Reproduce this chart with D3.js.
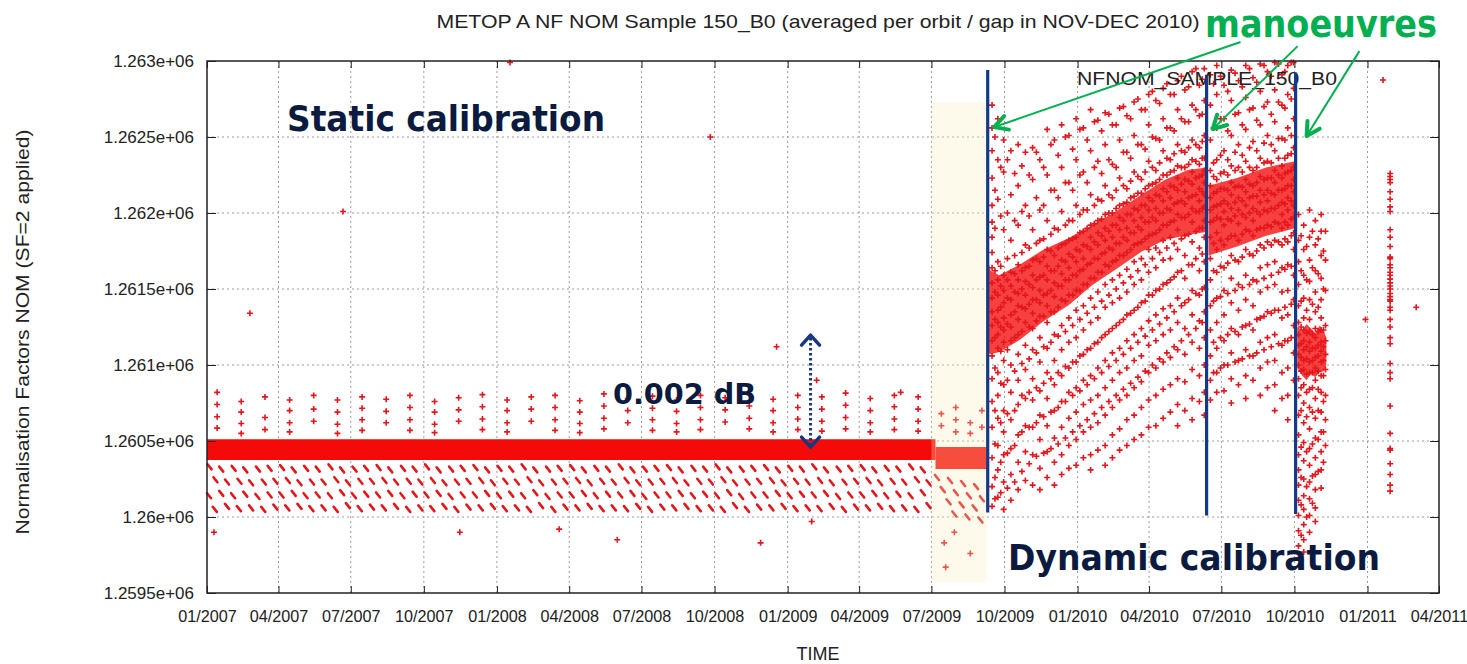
<!DOCTYPE html>
<html><head><meta charset="utf-8">
<script src="https://cdn.jsdelivr.net/npm/d3@7"></script>
<style>body{margin:0;background:#fff}svg{display:block}</style>
</head><body>
<svg id="c" width="1467" height="664"></svg>
<script>
// ---------- tick data ----------
const xTickDates = ["2007-01-01","2007-04-01","2007-07-01","2007-10-01","2008-01-01","2008-04-01","2008-07-01","2008-10-01","2009-01-01","2009-04-01","2009-07-01","2009-10-01","2010-01-01","2010-04-01","2010-07-01","2010-10-01","2011-01-01","2011-04-01"];
const xTickLabels = ["01/2007","04/2007","07/2007","10/2007","01/2008","04/2008","07/2008","10/2008","01/2009","04/2009","07/2009","10/2009","01/2010","04/2010","07/2010","10/2010","01/2011","04/2011"];
const yTicks = [1259500,1260000,1260500,1261000,1261500,1262000,1262500,1263000];
const yTickLabels = ["1.2595e+06","1.26e+06","1.2605e+06","1.261e+06","1.2615e+06","1.262e+06","1.2625e+06","1.263e+06"];

// ---------- dense bands [yearFrac, low, high] ----------
const staticBand = [[2007.0,1260375,1260512],[2009.51,1260375,1260512]];
const shadedBand = [[2009.51,1260315,1260460],[2009.686,1260315,1260460]];
const dynBand1 = [[2009.690,1261080,1261700],[2009.700,1261070,1261620],[2009.730,1261085,1261590],[2009.800,1261165,1261660],[2009.880,1261285,1261756],[2009.970,1261395,1261835],[2010.050,1261525,1261920],[2010.140,1261640,1262020],[2010.220,1261745,1262120],[2010.300,1261822,1262217],[2010.380,1261855,1262283],[2010.443,1261875,1262300]];
const dynBand2 = [[2010.452,1261720,1262180],[2010.550,1261780,1262230],[2010.650,1261850,1262300],[2010.750,1261900,1262340]];
const dynBand3 = [[2010.758,1260980,1261250],[2010.775,1260930,1261230],[2010.790,1260900,1261270],[2010.805,1260940,1261240],[2010.820,1260920,1261210],[2010.835,1260950,1261260],[2010.850,1260960,1261220],[2010.858,1261000,1261180]];

// ---------- static period: upper points per orbit-cycle column ----------
const staticUpper = [
[2007.035,[1260820,1260740,1260660,1260585]],[2007.118,[1260760,1260690,1260615,1260550]],[2007.200,[1260790,1260655,1260575]],
[2007.285,[1260770,1260700,1260620,1260560]],[2007.368,[1260800,1260710,1260630]],[2007.450,[1260770,1260690,1260610,1260550]],
[2007.535,[1260790,1260715,1260640,1260570]],[2007.618,[1260775,1260695,1260620]],[2007.700,[1260800,1260720,1260640,1260570]],
[2007.785,[1260760,1260690,1260610,1260555]],[2007.868,[1260785,1260705,1260630]],[2007.950,[1260805,1260725,1260645,1260575]],
[2008.035,[1260770,1260700,1260620,1260560]],[2008.118,[1260790,1260710,1260630]],[2008.200,[1260800,1260720,1260640,1260570]],
[2008.285,[1260765,1260690,1260615,1260555]],[2008.368,[1260810,1260730,1260650,1260580]],[2008.450,[1260780,1260700,1260620]],
[2008.535,[1260795,1260715,1260640,1260570]],[2008.618,[1260770,1260695,1260615,1260560]],[2008.700,[1260800,1260720,1260640,1260575]],
[2008.785,[1260785,1260705,1260625]],[2008.868,[1260810,1260730,1260650,1260580]],[2008.950,[1260775,1260700,1260620,1260560]],
[2009.035,[1260800,1260720,1260645,1260575]],[2009.118,[1260790,1260710,1260630,1260565]],[2009.200,[1260815,1260735,1260655,1260580]],
[2009.285,[1260780,1260700,1260620,1260560]],[2009.368,[1260800,1260725,1260645,1260575]],[2009.450,[1260790,1260710,1260630,1260565]],
[2009.530,[1260680,1260600]],[2009.580,[1260720,1260640,1260560]],[2009.630,[1260620,1260550]],[2009.670,[1260700,1260590]]
];

// ---------- static period: lower streaks [yearFrac, value at streak top] ----------
const staticLower = [
[2007.009,1260340],[2007.029,1260255],[2007.049,1260165],[2007.069,1260080],[2007.049,1260325],[2007.069,1260240],[2007.007,1260150],[2007.027,1260060],
[2007.092,1260330],[2007.112,1260245],[2007.132,1260160],[2007.152,1260070],[2007.132,1260320],[2007.152,1260235],[2007.090,1260150],[2007.110,1260065],
[2007.176,1260325],[2007.196,1260240],[2007.216,1260155],[2007.236,1260075],[2007.216,1260330],[2007.236,1260245],[2007.174,1260145],[2007.194,1260060],
[2007.259,1260335],[2007.279,1260250],[2007.299,1260165],[2007.319,1260080],[2007.299,1260320],[2007.319,1260235],[2007.257,1260155],[2007.277,1260070],
[2007.342,1260330],[2007.362,1260240],[2007.382,1260155],[2007.402,1260070],[2007.382,1260325],[2007.402,1260240],[2007.340,1260150],[2007.360,1260065],
[2007.426,1260340],[2007.446,1260255],[2007.466,1260170],[2007.486,1260085],[2007.466,1260320],[2007.486,1260235],[2007.424,1260150],[2007.444,1260060],
[2007.509,1260325],[2007.529,1260245],[2007.549,1260160],[2007.569,1260075],[2007.549,1260330],[2007.569,1260245],[2007.507,1260150],[2007.527,1260065],
[2007.592,1260335],[2007.612,1260250],[2007.632,1260165],[2007.652,1260080],[2007.632,1260320],[2007.652,1260240],[2007.590,1260155],[2007.610,1260070],
[2007.676,1260330],[2007.696,1260245],[2007.716,1260160],[2007.736,1260070],[2007.716,1260325],[2007.736,1260240],[2007.674,1260150],[2007.694,1260060],
[2007.759,1260340],[2007.779,1260250],[2007.799,1260165],[2007.819,1260080],[2007.799,1260320],[2007.819,1260235],[2007.757,1260155],[2007.777,1260065],
[2007.842,1260325],[2007.862,1260240],[2007.882,1260155],[2007.902,1260075],[2007.882,1260330],[2007.902,1260245],[2007.840,1260145],[2007.860,1260060],
[2007.926,1260335],[2007.946,1260250],[2007.966,1260165],[2007.986,1260080],[2007.966,1260320],[2007.986,1260235],[2007.924,1260155],[2007.944,1260070],
[2008.009,1260330],[2008.029,1260245],[2008.049,1260160],[2008.069,1260070],[2008.049,1260325],[2008.069,1260240],[2008.007,1260150],[2008.027,1260065],
[2008.092,1260340],[2008.112,1260255],[2008.132,1260170],[2008.152,1260085],[2008.132,1260320],[2008.152,1260235],[2008.090,1260150],[2008.110,1260060],
[2008.176,1260325],[2008.196,1260240],[2008.216,1260155],[2008.236,1260075],[2008.216,1260330],[2008.236,1260245],[2008.174,1260145],[2008.194,1260060],
[2008.259,1260335],[2008.279,1260250],[2008.299,1260165],[2008.319,1260080],[2008.299,1260320],[2008.319,1260235],[2008.257,1260155],[2008.277,1260070],
[2008.342,1260330],[2008.362,1260245],[2008.382,1260160],[2008.402,1260070],[2008.382,1260325],[2008.402,1260240],[2008.340,1260150],[2008.360,1260065],
[2008.426,1260340],[2008.446,1260250],[2008.466,1260165],[2008.486,1260080],[2008.466,1260320],[2008.486,1260235],[2008.424,1260155],[2008.444,1260065],
[2008.509,1260325],[2008.529,1260240],[2008.549,1260155],[2008.569,1260075],[2008.549,1260330],[2008.569,1260245],[2008.507,1260145],[2008.527,1260060],
[2008.592,1260335],[2008.612,1260250],[2008.632,1260165],[2008.652,1260080],[2008.632,1260320],[2008.652,1260235],[2008.590,1260155],[2008.610,1260070],
[2008.676,1260330],[2008.696,1260245],[2008.716,1260160],[2008.736,1260070],[2008.716,1260325],[2008.736,1260240],[2008.674,1260150],[2008.694,1260065],
[2008.759,1260340],[2008.779,1260255],[2008.799,1260170],[2008.819,1260085],[2008.799,1260320],[2008.819,1260235],[2008.757,1260150],[2008.777,1260060],
[2008.842,1260325],[2008.862,1260240],[2008.882,1260155],[2008.902,1260075],[2008.882,1260330],[2008.902,1260245],[2008.840,1260145],[2008.860,1260060],
[2008.926,1260335],[2008.946,1260250],[2008.966,1260165],[2008.986,1260080],[2008.966,1260320],[2008.986,1260235],[2008.924,1260155],[2008.944,1260070],
[2009.009,1260330],[2009.029,1260245],[2009.049,1260160],[2009.069,1260070],[2009.049,1260325],[2009.069,1260240],[2009.007,1260150],[2009.027,1260065],
[2009.092,1260340],[2009.112,1260250],[2009.132,1260165],[2009.152,1260080],[2009.132,1260320],[2009.152,1260235],[2009.090,1260155],[2009.110,1260065],
[2009.176,1260325],[2009.196,1260240],[2009.216,1260155],[2009.236,1260075],[2009.216,1260330],[2009.236,1260245],[2009.174,1260145],[2009.194,1260060],
[2009.259,1260335],[2009.279,1260250],[2009.299,1260165],[2009.319,1260080],[2009.299,1260320],[2009.319,1260235],[2009.257,1260155],[2009.277,1260070],
[2009.342,1260330],[2009.362,1260245],[2009.382,1260160],[2009.402,1260070],[2009.382,1260325],[2009.402,1260240],[2009.340,1260150],[2009.360,1260065],
[2009.426,1260340],[2009.446,1260255],[2009.466,1260170],[2009.486,1260085],[2009.466,1260320],[2009.486,1260235],[2009.424,1260150],[2009.444,1260060],
[2009.515,1260270],[2009.535,1260190],[2009.555,1260110],[2009.575,1260030],[2009.560,1260250],[2009.580,1260170],[2009.600,1260090],[2009.620,1260010],
[2009.605,1260230],[2009.625,1260150],[2009.645,1260070],[2009.665,1259990],[2009.650,1260210],[2009.670,1260130]
];

// ---------- isolated outliers [yearFrac, value] ----------
const outliers = [[2007.148,1261340],[2007.469,1262010],[2008.045,1262990],[2008.734,1262500],[2008.962,1261120],[2009.100,1260900],[2009.390,1260820],
[2008.414,1259850],[2008.907,1259830],[2009.083,1259970],[2007.024,1259900],[2007.872,1259900],[2008.214,1259920],
[2009.540,1259830],[2009.545,1259670],[2009.630,1259760],[2009.575,1259900],[2010.993,1261300],[2011.168,1261380]];

// ---------- dynamic calibration period: columns [yearFrac, values] ----------
const dynCols1 = [
[2009.705,[1262710,1262560,1262410,1262230,1262050,1261940,1261840,1261740,1261640,1261540,1261440,1261350,1261260,1261160,1261060,1260910,1260760,1260590,1260390,1260200,1260070]],
[2009.715,[1262500,1262150,1261900,1261620,1261480,1261300,1261180,1260980,1260700,1260480,1260260,1260120]],
[2009.725,[1262620,1262350,1262090,1261680,1261560,1261460,1261360,1261280,1261200,1261110,1260950,1260800,1260650,1260470,1260310,1260130]],
[2009.735,[1262300,1261980,1261650,1261520,1261380,1261250,1261090,1260880,1260620,1260360,1260160]],
[2009.745,[1262480,1262270,1261890,1261590,1261490,1261410,1261310,1261230,1261150,1261030,1260870,1260700,1260560,1260410,1260230,1260050]],
[2009.758,[1262350,1262000,1261700,1261560,1261440,1261270,1261100,1260900,1260680,1260420,1260190]],
[2009.770,[1262410,1262120,1261820,1261610,1261520,1261430,1261330,1261250,1261160,1261000,1260820,1260640,1260450,1260280,1260110]],
[2009.783,[1262260,1261950,1261720,1261600,1261480,1261350,1261180,1260960,1260700,1260470,1260230]],
[2009.795,[1262450,1262180,1261920,1261660,1261560,1261470,1261390,1261300,1261200,1261070,1260900,1260740,1260540,1260360,1260180]],
[2009.808,[1262310,1262010,1261740,1261620,1261500,1261380,1261220,1261010,1260800,1260560,1260300]],
[2009.820,[1262400,1262050,1261790,1261640,1261550,1261460,1261370,1261280,1261130,1260970,1260780,1260600,1260430,1260240]],
[2009.833,[1262250,1261980,1261770,1261650,1261530,1261400,1261250,1261040,1260820,1260590,1260350]],
[2009.845,[1262430,1262220,1261890,1261690,1261590,1261510,1261430,1261340,1261240,1261100,1260910,1260770,1260590,1260410,1260210]],
[2009.858,[1262400,1262100,1261800,1261700,1261560,1261430,1261290,1261080,1260850,1260620,1260400]],
[2009.870,[1262350,1262020,1261820,1261680,1261580,1261490,1261410,1261320,1261180,1261020,1260830,1260670,1260510,1260320,1260180]],
[2009.883,[1262300,1262050,1261830,1261710,1261590,1261460,1261320,1261120,1260880,1260660,1260420]],
[2009.895,[1262550,1262250,1261950,1261760,1261650,1261560,1261470,1261390,1261280,1261110,1260950,1260780,1260600,1260430,1260260]],
[2009.908,[1262450,1262150,1261860,1261750,1261620,1261490,1261350,1261150,1260910,1260690,1260450]],
[2009.920,[1262480,1262150,1261900,1261720,1261620,1261540,1261450,1261350,1261200,1261030,1260870,1260700,1260520,1260360,1260210]],
[2009.933,[1262380,1262100,1261890,1261770,1261650,1261520,1261380,1261190,1260950,1260720,1260480]],
[2009.945,[1262580,1262300,1262010,1261790,1261690,1261600,1261520,1261430,1261260,1261100,1260930,1260760,1260590,1260410,1260280]],
[2009.958,[1262500,1262200,1261920,1261800,1261680,1261560,1261420,1261220,1260990,1260760,1260520]],
[2009.970,[1262510,1262200,1261950,1261820,1261730,1261640,1261560,1261460,1261310,1261150,1260980,1260820,1260650,1260470,1260320]],
[2009.983,[1262420,1262150,1261950,1261830,1261710,1261590,1261460,1261260,1261020,1260800,1260560]],
[2009.995,[1262620,1262350,1262050,1261840,1261760,1261680,1261590,1261490,1261360,1261180,1261020,1260850,1260690,1260510,1260340]],
[2010.008,[1262550,1262250,1261990,1261870,1261750,1261620,1261490,1261300,1261060,1260830,1260600]],
[2010.020,[1262560,1262270,1262020,1261880,1261790,1261700,1261630,1261530,1261390,1261230,1261070,1260900,1260740,1260560,1260390]],
[2010.033,[1262480,1262200,1262020,1261900,1261780,1261660,1261530,1261340,1261100,1260870,1260640]],
[2010.045,[1262680,1262410,1262120,1261920,1261840,1261760,1261670,1261570,1261440,1261280,1261110,1260930,1260770,1260590,1260410,1260310]],
[2010.058,[1262600,1262300,1262050,1261930,1261810,1261700,1261570,1261380,1261140,1260910,1260680]],
[2010.070,[1262610,1262340,1262090,1261950,1261870,1261790,1261700,1261610,1261480,1261310,1261150,1260980,1260800,1260620,1260440]],
[2010.083,[1262540,1262260,1262080,1261960,1261850,1261730,1261610,1261420,1261180,1260950,1260720]],
[2010.095,[1262660,1262450,1262180,1261990,1261900,1261820,1261740,1261660,1261530,1261380,1261200,1261030,1260850,1260670,1260470,1260340]],
[2010.108,[1262650,1262350,1262120,1262000,1261880,1261770,1261650,1261460,1261220,1260990,1260760]],
[2010.120,[1262580,1262320,1262100,1262000,1261920,1261840,1261760,1261680,1261560,1261410,1261240,1261080,1260900,1260720,1260540,1260390]],
[2010.133,[1262580,1262300,1262150,1262030,1261920,1261800,1261690,1261500,1261260,1261030,1260800]],
[2010.145,[1262690,1262480,1262230,1262050,1261970,1261890,1261800,1261720,1261590,1261440,1261280,1261110,1260950,1260770,1260580,1260440]],
[2010.158,[1262700,1262400,1262180,1262060,1261950,1261840,1261720,1261540,1261300,1261070,1260840]],
[2010.170,[1262640,1262400,1262160,1262070,1261990,1261900,1261820,1261740,1261630,1261480,1261330,1261160,1260980,1260800,1260640,1260470]],
[2010.183,[1262620,1262360,1262210,1262100,1261990,1261870,1261760,1261580,1261340,1261110,1260880]],
[2010.195,[1262730,1262510,1262270,1262110,1262030,1261950,1261870,1261790,1261680,1261530,1261360,1261200,1261030,1260850,1260670,1260510]],
[2010.208,[1262750,1262450,1262240,1262130,1262020,1261910,1261800,1261620,1261380,1261150,1260920]],
[2010.220,[1262680,1262450,1262220,1262130,1262050,1261970,1261890,1261810,1261700,1261560,1261410,1261240,1261060,1260890,1260720,1260540]],
[2010.233,[1262680,1262420,1262270,1262160,1262050,1261940,1261830,1261660,1261420,1261190,1260960]],
[2010.245,[1262780,1262580,1262340,1262180,1262100,1262020,1261940,1261850,1261760,1261610,1261460,1261290,1261130,1260950,1260770,1260590]],
[2010.258,[1262800,1262500,1262300,1262190,1262080,1261970,1261860,1261700,1261460,1261230,1261000]],
[2010.270,[1262740,1262490,1262280,1262200,1262120,1262030,1261950,1261870,1261770,1261640,1261490,1261330,1261160,1260980,1260800,1260600]],
[2010.283,[1262720,1262480,1262330,1262220,1262110,1262000,1261890,1261740,1261500,1261270,1261040]],
[2010.295,[1262820,1262620,1262410,1262250,1262160,1262080,1262000,1261920,1261820,1261690,1261530,1261370,1261200,1261020,1260840,1260650]],
[2010.308,[1262850,1262560,1262360,1262250,1262140,1262030,1261920,1261770,1261540,1261310,1261080]],
[2010.320,[1262780,1262560,1262350,1262270,1262180,1262100,1262020,1261940,1261840,1261700,1261560,1261390,1261230,1261050,1260870,1260690]],
[2010.333,[1262780,1262540,1262390,1262280,1262170,1262060,1261950,1261800,1261580,1261350,1261120]],
[2010.345,[1262870,1262680,1262450,1262310,1262230,1262150,1262070,1261990,1261890,1261760,1261610,1261440,1261280,1261100,1260910,1260740,1260600]],
[2010.358,[1262900,1262620,1262410,1262300,1262190,1262080,1261970,1261830,1261620,1261390,1261160]],
[2010.370,[1262810,1262600,1262400,1262300,1262220,1262140,1262060,1261970,1261850,1261720,1261570,1261410,1261240,1261070,1260890,1260700]],
[2010.383,[1262830,1262600,1262430,1262320,1262210,1262100,1261990,1261860,1261660,1261430,1261200]],
[2010.395,[1262930,1262710,1262480,1262350,1262270,1262190,1262110,1262030,1261940,1261810,1261660,1261490,1261330,1261150,1260970,1260780,1260640]],
[2010.408,[1262950,1262680,1262450,1262340,1262230,1262120,1262010,1261880,1261700,1261470,1261240]],
[2010.420,[1262840,1262640,1262430,1262320,1262240,1262160,1262080,1262010,1261900,1261770,1261620,1261460,1261290,1261110,1260930,1260760]],
[2010.430,[1262880,1262650,1262470,1262360,1262250,1262140,1262030,1261900,1261730,1261500,1261280]],
[2010.437,[1262950,1262740,1262510,1262360,1262280,1262200,1262120,1262040,1261950,1261840,1261680,1261510,1261350,1261180,1261000,1260820,1260670]]
];
const dynCols2 = [
[2010.458,[1262910,1262710,1262480,1262280,1262180,1262100,1262020,1261940,1261840,1261700,1261560,1261390,1261230,1261060,1260900,1260770]],
[2010.469,[1262850,1262560,1262330,1262240,1262130,1262040,1261950,1261800,1261620,1261420,1261150,1260950]],
[2010.480,[1262970,1262780,1262560,1262350,1262220,1262140,1262050,1261970,1261870,1261760,1261610,1261440,1261280,1261110,1260950,1260820]],
[2010.493,[1262900,1262620,1262380,1262260,1262160,1262060,1261960,1261820,1261650,1261450,1261180,1260980]],
[2010.505,[1262840,1262620,1262410,1262270,1262160,1262080,1262010,1261920,1261790,1261640,1261490,1261330,1261160,1261000,1260830]],
[2010.518,[1262800,1262540,1262350,1262250,1262150,1262060,1261960,1261830,1261670,1261470,1261200,1261000]],
[2010.530,[1262940,1262740,1262510,1262310,1262200,1262120,1262030,1261950,1261850,1261720,1261570,1261410,1261240,1261080,1260910,1260750]],
[2010.543,[1262920,1262650,1262400,1262280,1262170,1262070,1261980,1261850,1261690,1261490,1261220,1261020]],
[2010.555,[1262870,1262660,1262450,1262300,1262180,1262100,1262020,1261930,1261820,1261680,1261530,1261360,1261200,1261030,1260870]],
[2010.568,[1262830,1262580,1262380,1262270,1262170,1262080,1261990,1261860,1261710,1261510,1261250,1261040]],
[2010.580,[1262970,1262760,1262550,1262340,1262220,1262140,1262050,1261970,1261890,1261760,1261590,1261430,1261260,1261100,1260930,1260780]],
[2010.593,[1262950,1262680,1262430,1262300,1262190,1262100,1262000,1261880,1261730,1261530,1261270,1261060]],
[2010.605,[1262890,1262690,1262470,1262280,1262180,1262110,1262030,1261950,1261850,1261720,1261560,1261390,1261230,1261060,1260900]],
[2010.618,[1262860,1262610,1262410,1262300,1262200,1262110,1262010,1261890,1261750,1261550,1261300,1261080]],
[2010.630,[1262980,1262800,1262580,1262360,1262240,1262150,1262070,1261990,1261900,1261790,1261640,1261480,1261310,1261150,1260980,1260800]],
[2010.643,[1262970,1262700,1262460,1262330,1262220,1262120,1262020,1261900,1261770,1261570,1261320,1261100]],
[2010.655,[1262930,1262730,1262510,1262340,1262230,1262150,1262080,1262010,1261920,1261810,1261660,1261510,1261350,1261180,1261020,1260850]],
[2010.668,[1262900,1262650,1262450,1262330,1262230,1262130,1262030,1261910,1261790,1261590,1261340,1261120]],
[2010.680,[1262990,1262810,1262600,1262410,1262280,1262200,1262120,1262030,1261940,1261820,1261680,1261530,1261360,1261200,1261030,1260870,1260700]],
[2010.693,[1262980,1262730,1262490,1262360,1262250,1262150,1262050,1261930,1261810,1261610,1261360,1261140]],
[2010.705,[1262910,1262710,1262490,1262310,1262230,1262150,1262070,1261990,1261900,1261790,1261640,1261480,1261310,1261130,1260950,1260780]],
[2010.715,[1262930,1262690,1262480,1262360,1262260,1262160,1262060,1261940,1261830,1261630,1261380,1261160]],
[2010.725,[1262970,1262780,1262560,1262380,1262270,1262180,1262100,1262020,1261920,1261810,1261660,1261490,1261330,1261160,1260980,1260800,1260640]],
[2010.737,[1262990,1262750,1262510,1262390,1262280,1262180,1262080,1261960,1261850,1261650,1261400,1261180]],
[2010.745,[1262990,1262820,1262620,1262430,1262300,1262220,1262140,1262050,1261970,1261870,1261760,1261590,1261430,1261260,1261080,1260900]]
];
const dynCols3 = [
[2010.762,[1261990,1261820,1261680,1261530,1261390,1261280,1261200,1261130,1261070,1261000,1260910,1260800,1260670,1260540,1260410,1260310,1260210,1260110,1260010,1259910,1259810,1259730]],
[2010.771,[1261850,1261620,1261420,1261250,1261140,1261050,1260960,1260850,1260700,1260460,1260260,1260080,1259880]],
[2010.780,[1261920,1261760,1261590,1261440,1261310,1261230,1261160,1261100,1261030,1260970,1260870,1260750,1260620,1260490,1260370,1260250,1260140,1260050,1259950,1259850,1259770]],
[2010.790,[1261780,1261560,1261360,1261210,1261120,1261040,1260940,1260820,1260660,1260430,1260200,1260000]],
[2010.800,[1262020,1261840,1261690,1261550,1261430,1261300,1261220,1261150,1261090,1261020,1260950,1260840,1260720,1260580,1260450,1260340,1260230,1260120,1260010,1259900]],
[2010.810,[1261880,1261640,1261400,1261200,1261110,1261030,1260950,1260850,1260690,1260480,1260270,1260090]],
[2010.820,[1261950,1261790,1261620,1261480,1261350,1261240,1261180,1261110,1261050,1260980,1260900,1260780,1260650,1260520,1260390,1260280,1260180,1260060,1259970]],
[2010.830,[1261830,1261600,1261380,1261220,1261130,1261060,1260960,1260840,1260700,1260510,1260300]],
[2010.840,[1261990,1261880,1261720,1261570,1261430,1261310,1261230,1261150,1261090,1261020,1260930,1260820,1260690,1260560,1260430,1260310,1260190]],
[2010.848,[1261750,1261500,1261230,1261120,1261030,1260930,1260760,1260560,1260360]],
[2010.855,[1261880,1261690,1261490,1261260,1261160,1261070,1260970,1260800,1260640,1260470]]
];
const col2011 = [2011.078,[1262260,1262240,1262220,1262200,1262140,1262090,1262040,1262010,1261890,1261840,1261780,1261710,1261700,1261660,1261640,1261610,1261590,1261565,1261540,1261520,1261500,1261470,1261450,1261430,1261420,1261380,1261360,1261300,1261250,1261180,1261140,1261010,1260950,1260910,1260730,1260550,1260450,1260440,1260350,1260280,1260210,1260170]];

// ---------- annotations (data space) ----------
const shade = {from:"2009-07-01", to:2009.686, low:1259570, high:1262730};
const manoeuvres = [[2009.690,1262940,1260030],[2010.445,1262910,1260010],[2010.752,1262925,1260020]];
const greenArrows = [[[2010.562,1263125],[2009.712,1262565]],[[2010.759,1263098],[2010.466,1262552]],[[2010.972,1263065],[2010.790,1262506]]];
const dbArrow = [2009.079,1261197,1260460];

// ---------- scales ----------
const parse = d3.utcParse("%Y-%m-%d");
const xDates = xTickDates.map(parse);
const x = d3.scaleUtc().domain([xDates[0], xDates[xDates.length-1]]).range([207,1439]);
const y = d3.scaleLinear().domain([yTicks[0], yTicks[yTicks.length-1]]).range([593,61]);
const yr = t => { const Y=Math.floor(t), a=Date.UTC(Y,0,1), b=Date.UTC(Y+1,0,1); return new Date(a+(t-Y)*(b-a)); };
const X = t => x(yr(t));
const [L,R] = x.range(), [B,T] = y.range();

const svg = d3.select("#c");
const RED = "#e3161b", BAND = "#f50a0a";
const FONT = "'Liberation Sans', Arial, sans-serif";

// grid
const grid = svg.append("g").attr("stroke","#9c9c9c").attr("stroke-dasharray","2,3").attr("stroke-width",1);
grid.selectAll(null).data(xDates.slice(1,-1)).join("line")
  .attr("x1",d=>x(d)).attr("x2",d=>x(d)).attr("y1",T).attr("y2",B);
grid.selectAll(null).data(yTicks.slice(1,-1)).join("line")
  .attr("x1",L).attr("x2",R).attr("y1",d=>y(d)).attr("y2",d=>y(d));

// bands
const area = d3.area().x(d=>X(d[0])).y0(d=>y(d[1])).y1(d=>y(d[2]));
svg.append("path").attr("d",area(staticBand)).attr("fill",BAND);
svg.append("path").attr("d",area(shadedBand)).attr("fill",BAND);
[dynBand1,dynBand2,dynBand3].forEach(b=>svg.append("path").attr("d",area(b)).attr("fill",BAND).attr("opacity",0.78));

// points
const pts = [];
staticUpper.forEach(([t,vs])=>vs.forEach(v=>pts.push([t,v])));
[dynCols1,dynCols2,dynCols3].forEach(cs=>cs.forEach(([t,vs])=>vs.forEach(v=>pts.push([t,v]))));
col2011[1].forEach(v=>pts.push([col2011[0],v]));
outliers.forEach(p=>pts.push(p));
const plus = "M-3,0H3M0,-3V3";
svg.append("g").attr("stroke",RED).attr("stroke-width",1.6).attr("fill","none")
  .selectAll("path").data(pts).join("path")
  .attr("d",plus).attr("transform",d=>`translate(${X(d[0])},${y(d[1])})`);

// lower streaks (short slanted runs of consecutive orbits)
svg.append("g").attr("stroke",RED).attr("stroke-width",2.6).attr("stroke-linecap","round")
  .selectAll("line").data(staticLower).join("line")
  .attr("x1",d=>X(d[0])-2).attr("y1",d=>y(d[1])-1)
  .attr("x2",d=>X(d[0])+2).attr("y2",d=>y(d[1])+4);

// shaded transition area (overlay)
svg.append("rect").attr("x",x(parse(shade.from))).attr("y",y(shade.high))
  .attr("width",X(shade.to)-x(parse(shade.from))).attr("height",y(shade.low)-y(shade.high))
  .attr("fill","rgb(250,236,190)").attr("opacity",0.3);

// axes (inward ticks on all sides)
function styleAxis(g,size){ g.select(".domain").remove(); g.selectAll("line").attr("stroke","#222");
  g.selectAll("text").attr("font-family",FONT).attr("font-size",size).attr("fill","#222"); }
svg.append("g").attr("transform",`translate(0,${B})`)
  .call(d3.axisBottom(x).tickValues(xDates).tickFormat((d,i)=>xTickLabels[i]).tickSize(-7).tickPadding(17)).call(g=>styleAxis(g,16.2));
svg.append("g").attr("transform",`translate(0,${T})`)
  .call(d3.axisTop(x).tickValues(xDates).tickFormat("").tickSize(-7)).call(g=>styleAxis(g,16));
svg.append("g").attr("transform",`translate(${L},0)`)
  .call(d3.axisLeft(y).tickValues(yTicks).tickFormat((d,i)=>yTickLabels[i]).tickSize(-9).tickPadding(13)).call(g=>styleAxis(g,17));
svg.append("g").attr("transform",`translate(${R},0)`)
  .call(d3.axisRight(y).tickValues(yTicks).tickFormat("").tickSize(-9)).call(g=>styleAxis(g,17));
svg.append("rect").attr("x",L).attr("y",T).attr("width",R-L).attr("height",B-T)
  .attr("fill","none").attr("stroke","#222").attr("stroke-width",1.5);

// titles
svg.append("text").attr("x",818).attr("y",28).attr("text-anchor","middle").attr("font-family",FONT)
  .attr("font-size",19).attr("fill","#222").attr("textLength",763).attr("lengthAdjust","spacingAndGlyphs")
  .text("METOP A NF NOM Sample 150_B0 (averaged per orbit / gap in NOV-DEC 2010)");
svg.append("text").attr("x",818).attr("y",660).attr("text-anchor","middle").attr("font-family",FONT)
  .attr("font-size",18).attr("fill","#222").text("TIME");
svg.append("text").attr("transform","translate(29,332) rotate(-90)").attr("text-anchor","middle")
  .attr("font-family",FONT).attr("font-size",19).attr("fill","#222")
  .attr("textLength",405).attr("lengthAdjust","spacingAndGlyphs")
  .text("Normalisation Factors NOM (SF=2 applied)");

// legend
svg.append("text").attr("x",1337).attr("y",85).attr("text-anchor","end").attr("font-family",FONT)
  .attr("font-size",19).attr("fill","#222").attr("textLength",260).attr("lengthAdjust","spacingAndGlyphs")
  .text("NFNOM_SAMPLE_150_B0");
svg.append("path").attr("d",plus).attr("transform","translate(1383,80)").attr("stroke",RED).attr("stroke-width",1.6);

// manoeuvre lines
svg.append("g").selectAll("line").data(manoeuvres).join("line")
  .attr("x1",d=>X(d[0])).attr("x2",d=>X(d[0])).attr("y1",d=>y(d[1])).attr("y2",d=>y(d[2]))
  .attr("stroke","#123a86").attr("stroke-width",3.2);

// green arrows
const GREEN = "#00b050";
greenArrows.forEach(([a,b])=>{
  const x1=X(a[0]),y1=y(a[1]),x2=X(b[0]),y2=y(b[1]);
  svg.append("line").attr("x1",x1).attr("y1",y1).attr("x2",x2).attr("y2",y2).attr("stroke",GREEN).attr("stroke-width",2);
  const ang=Math.atan2(y2-y1,x2-x1), h=15, s=0.5;
  const p1=[x2-h*Math.cos(ang-s),y2-h*Math.sin(ang-s)], p2=[x2-h*Math.cos(ang+s),y2-h*Math.sin(ang+s)];
  svg.append("path").attr("d",`M${p1}L${x2},${y2}L${p2}`).attr("fill","none").attr("stroke",GREEN)
    .attr("stroke-width",4).attr("stroke-linecap","round").attr("stroke-linejoin","round");
});

// 0.002 dB double arrow
{ const ax=X(dbArrow[0]), yt=y(dbArrow[1]), yb=y(dbArrow[2]);
  svg.append("line").attr("x1",ax).attr("x2",ax).attr("y1",yt+3).attr("y2",yb-3).attr("stroke","#17377e")
    .attr("stroke-width",3).attr("stroke-dasharray","2.5,2.5");
  svg.append("path").attr("d",`M${ax-9},${yt+10}L${ax},${yt}L${ax+9},${yt+10}M${ax-9},${yb-10}L${ax},${yb}L${ax+9},${yb-10}`)
    .attr("fill","none").attr("stroke","#17377e").attr("stroke-width",3.5).attr("stroke-linecap","round").attr("stroke-linejoin","round");
}

// slide annotations
const ANN = "'DejaVu Sans', Verdana, sans-serif", NAVY = "#0b1a3f";
function ann(txt,x0,yb,size,len,col){ svg.append("text").attr("x",x0).attr("y",yb).attr("font-family",ANN)
  .attr("font-weight","bold").attr("font-size",size).attr("fill",col).attr("textLength",len)
  .attr("lengthAdjust","spacingAndGlyphs").text(txt); }
ann("Static calibration",287,131,36,318,NAVY);
ann("Dynamic calibration",1008,570,36,372,NAVY);
ann("0.002 dB",613,404,29,143,NAVY);
ann("manoeuvres",1205,37,38,232,GREEN);
</script>
</body></html>
